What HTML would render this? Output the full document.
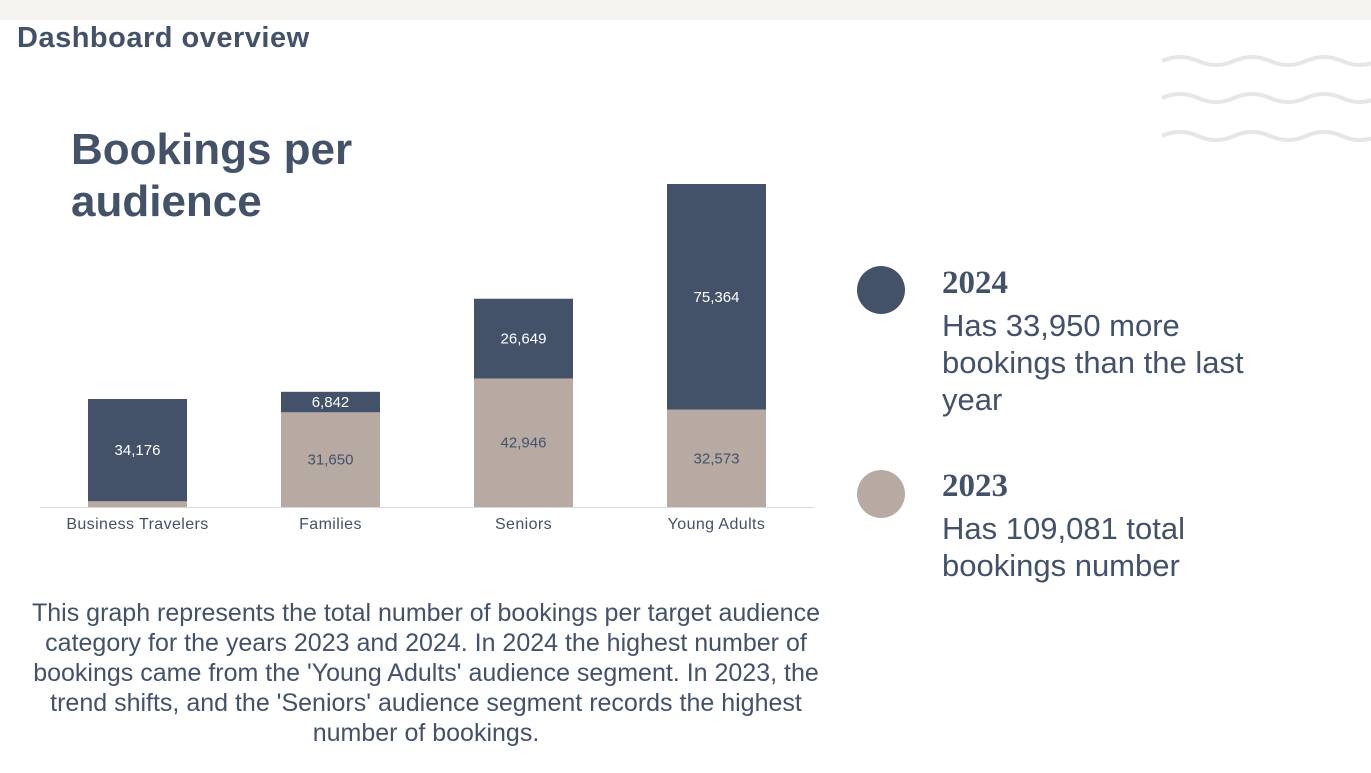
<!DOCTYPE html>
<html><head><meta charset="utf-8"><style>
body{margin:0;width:1371px;height:773px;background:#fff;position:relative;overflow:hidden;font-family:"Liberation Sans",sans-serif;color:#435169}
.abs{position:absolute}
</style></head><body>
<div class="abs" style="left:0;top:0;width:1371px;height:20px;background:#f5f4f0"></div>
<div class="abs" style="left:17px;top:22px;font-size:29px;letter-spacing:0.5px;font-weight:bold;color:#435169">Dashboard overview</div>
<svg class="abs" style="left:1160px;top:50px" width="211" height="100">
<g fill="none" stroke="#e8e6e3" stroke-width="4">
<path d="M2 11 q18 -8 36 0 t36 0 t36 0 t36 0 t36 0 t36 0"/>
<path d="M2 48 q18 -8 36 0 t36 0 t36 0 t36 0 t36 0 t36 0"/>
<path d="M2 86 q18 -8 36 0 t36 0 t36 0 t36 0 t36 0 t36 0"/>
</g></svg>
<div class="abs" style="left:71px;top:124px;font-size:44px;font-weight:bold;line-height:52px;color:#435169">Bookings per<br>audience</div>
<svg class="abs" id="chart" style="left:0;top:0" width="830" height="560"></svg>
<div class="abs" style="left:857px;top:266px;width:48px;height:48px;border-radius:50%;background:#435169"></div>
<div class="abs" style="left:942px;top:265px;font-size:33px;font-weight:bold;font-family:'Liberation Serif',serif">2024</div>
<div class="abs" style="left:942px;top:307px;font-size:31px;line-height:37px;width:400px;white-space:nowrap">Has 33,950 more<br>bookings than the last<br>year</div>
<div class="abs" style="left:857px;top:470px;width:48px;height:48px;border-radius:50%;background:#b7aaa3"></div>
<div class="abs" style="left:942px;top:468px;font-size:33px;font-weight:bold;font-family:'Liberation Serif',serif">2023</div>
<div class="abs" style="left:942px;top:510px;font-size:31px;line-height:37px;width:400px;white-space:nowrap">Has 109,081 total<br>bookings number</div>
<div class="abs" style="left:0px;top:598px;width:852px;text-align:center;font-size:25px;line-height:30px;white-space:nowrap">This graph represents the total number of bookings per target audience<br>category for the years 2023 and 2024. In 2024 the highest number of<br>bookings came from the 'Young Adults' audience segment. In 2023, the<br>trend shifts, and the 'Seniors' audience segment records the highest<br>number of bookings.</div>
<script>
const categories=["Business Travelers","Families","Seniors","Young Adults"];
const values2023=[1912,31650,42946,32573];
const values2024=[34176,6842,26649,75364];
const labels2023=["","31,650","42,946","32,573"];
const labels2024=["34,176","6,842","26,649","75,364"];
const svg=document.getElementById('chart');
const NS="http://www.w3.org/2000/svg";
const base=507, scale=323/107937, x0=88, step=193, bw=99;
const y=v=>base-v*scale;
function mk(t,a){const e=document.createElementNS(NS,t);for(const k in a)e.setAttribute(k,a[k]);svg.appendChild(e);return e;}
categories.forEach((c,i)=>{
  const x=x0+i*step;
  const r1=mk('rect',{x:x,y:y(values2023[i]),width:bw,height:values2023[i]*scale,fill:'#b7aaa3'});
  
  
  const top=values2023[i]+values2024[i];
  const r2=mk('rect',{x:x,y:y(top),width:bw,height:values2024[i]*scale,fill:'#435169'});
  
  
  if(labels2023[i]){const t=mk('text',{x:x+bw/2,y:(y(values2023[i])+base)/2+5,'text-anchor':'middle','font-size':15,fill:'#435169'});t.textContent=labels2023[i];
  
  }
  const t2=mk('text',{x:x+bw/2,y:(y(top)+y(values2023[i]))/2+5,'text-anchor':'middle','font-size':15,fill:'#fff'});t2.textContent=labels2024[i];
  
  
  const l=mk('text',{x:x+bw/2,y:529,'text-anchor':'middle','font-size':16,'letter-spacing':0.4,fill:'#435169'});l.textContent=c;
  
  
});
const ax=mk('line',{x1:40,x2:814,y1:base+0.5,y2:base+0.5,stroke:'#d9d9d9','stroke-width':1});


</script>
</body></html>
